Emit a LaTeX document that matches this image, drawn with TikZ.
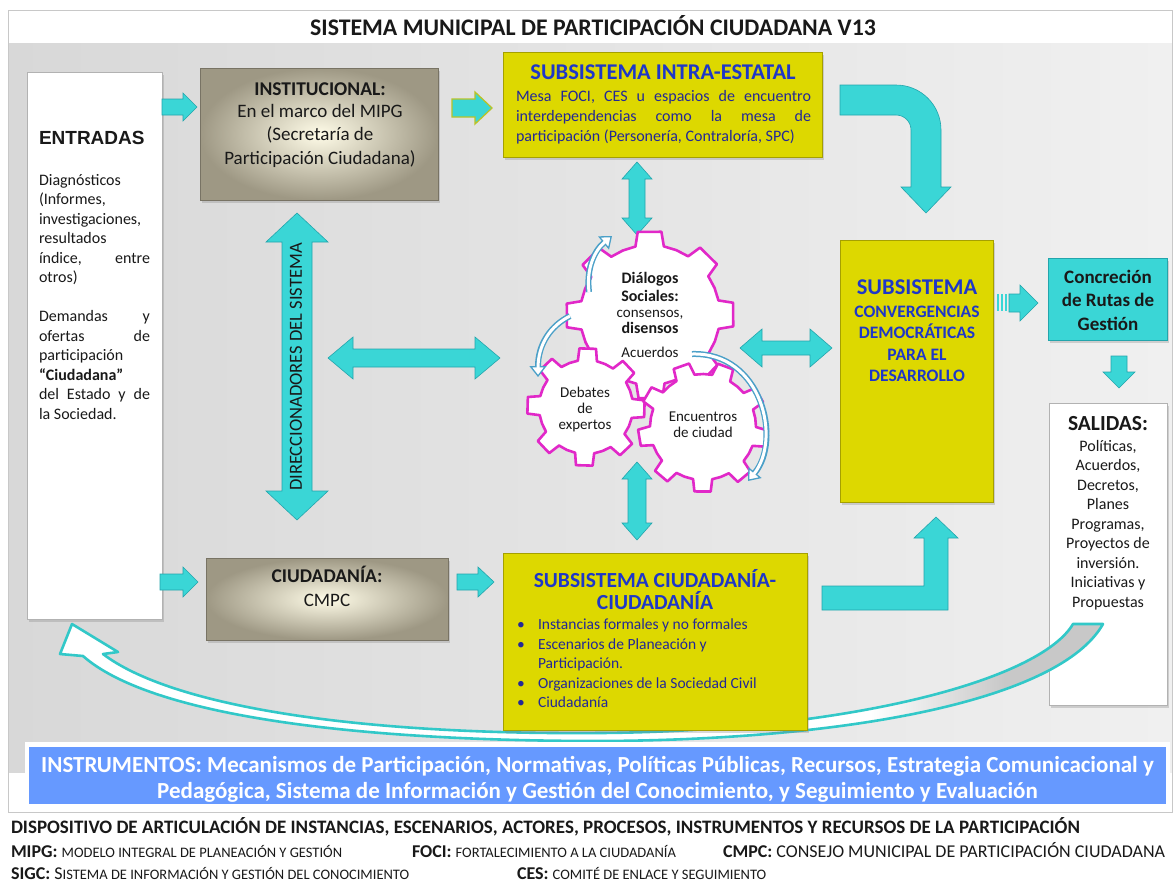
\documentclass[tikz,border=0pt]{standalone}
\usepackage{fontspec}
\setmainfont{Carlito}
\newfontfamily\arialf{Liberation Sans}
\usetikzlibrary{shadows,arrows.meta}
\definecolor{yel}{RGB}{221,216,0}
\definecolor{yelD}{RGB}{165,160,0}
\definecolor{titB}{RGB}{30,55,200}
\definecolor{bodyB}{RGB}{35,40,150}
\definecolor{cy}{RGB}{58,214,214}
\definecolor{cyD}{RGB}{35,165,172}
\definecolor{beC}{RGB}{255,252,232}
\definecolor{beO}{RGB}{158,152,132}
\definecolor{beD}{RGB}{120,115,100}
\definecolor{mag}{RGB}{225,40,200}
\definecolor{arrC}{RGB}{75,160,200}
\definecolor{instB}{RGB}{102,153,255}
\definecolor{bgL}{RGB}{216,216,216}
\definecolor{bgR}{RGB}{240,240,240}
\definecolor{frameC}{RGB}{200,200,200}
\definecolor{ribG}{RGB}{200,200,200}
\definecolor{ribC}{RGB}{50,200,200}
\definecolor{txtD}{RGB}{25,25,25}
\definecolor{olv}{RGB}{185,195,40}
\newcommand{\fs}[2]{\fontsize{#1pt}{#2pt}\selectfont}
\newcommand{\jw}[2]{\makebox[#1][s]{#2}}
\newcommand{\smc}[1]{{\fs{14.5}{17}#1}}
% right arrow: x0 x1 yc shaft-half head-half head-len
\newcommand{\rarr}[7][]{\filldraw[cyanarrow,#1] (#2,#4-#5) -- (#3-#7,#4-#5) -- (#3-#7,#4-#6) -- (#3,#4) -- (#3-#7,#4+#6) -- (#3-#7,#4+#5) -- (#2,#4+#5) -- cycle;}
% horizontal double arrow
\newcommand{\hdarr}[6]{\filldraw[cyanarrow] (#1,#3) -- (#1+#6,#3-#5) -- (#1+#6,#3-#4) -- (#2-#6,#3-#4) -- (#2-#6,#3-#5) -- (#2,#3) -- (#2-#6,#3+#5) -- (#2-#6,#3+#4) -- (#1+#6,#3+#4) -- (#1+#6,#3+#5) -- cycle;}
% vertical double arrow: xc y0 y1 sh hh hl
\newcommand{\vdarr}[6]{\filldraw[cyanarrow] (#1,#2) -- (#1+#5,#2+#6) -- (#1+#4,#2+#6) -- (#1+#4,#3-#6) -- (#1+#5,#3-#6) -- (#1,#3) -- (#1-#5,#3-#6) -- (#1-#4,#3-#6) -- (#1-#4,#2+#6) -- (#1-#5,#2+#6) -- cycle;}
% down arrow: xc y0 ytip sh hh hl
\newcommand{\dnarr}[6]{\filldraw[cyanarrow] (#1-#4,#2) -- (#1+#4,#2) -- (#1+#4,#3-#6) -- (#1+#5,#3-#6) -- (#1,#3) -- (#1-#5,#3-#6) -- (#1-#4,#3-#6) -- cycle;}
% gear: cx cy N rin rout phase
\newcommand{\drawgear}[6]{%
  \begin{scope}[shift={(#1,#2)}]
  \filldraw[gearsty] (#6:#4) \foreach \k in {1,...,#3}{
    -- ({#6+(\k-1)*360/#3+0.08*360/#3}:#5)
    -- ({#6+(\k-1)*360/#3+0.44*360/#3}:#5)
    -- ({#6+(\k-1)*360/#3+0.52*360/#3}:#4)
    -- ({#6+(\k-1)*360/#3+0.76*360/#3}:#4)
    -- ({#6+\k*360/#3}:#4)
  } -- cycle;
  \end{scope}}
\newcommand{\ringarrow}[1]{%
  \draw[line width=6pt, arrC, -{Triangle[length=11pt,width=17pt,fill=white,line width=1.3pt]}] #1;
  \draw[line width=3pt, white, shorten >=9pt] #1;}
\tikzset{
  every node/.style={inner sep=0pt, outer sep=0pt},
  txt/.style={text=txtD},
  shad/.style={drop shadow={opacity=0.3, shadow xshift=2pt, shadow yshift=-2.5pt}},
  yelbox/.style={shad, fill=yel, draw=yelD, line width=0.6pt},
  beigebox/.style={shad, inner color=beC, outer color=beO, draw=beD, line width=0.6pt},
  whitebox/.style={shad, fill=white, draw=black!30, line width=0.6pt},
  cyanbox/.style={shad, fill=cy, draw=cyD, line width=0.6pt},
  cyanarrow/.style={fill=cy, draw=cyD, line width=0.6pt, line join=miter},
  gearsty/.style={fill=white, draw=mag, line width=2.6pt, line join=round},
}
\begin{document}
\begin{tikzpicture}[x=1pt,y=-1pt]
\useasboundingbox (0,0) rectangle (1174,884);
\fill[white] (0,0) rectangle (1174,884);
% background
\shade[left color=bgL, right color=bgR] (8,43) rectangle (1172,772);
\draw[frameC, line width=0.8pt] (8,10) rectangle (1172,812);
\node[txt, anchor=base, font={\fs{23.8}{28}\bfseries}] (title) at (593,35) {SISTEMA MUNICIPAL DE PARTICIPACIÓN CIUDADANA V13};

% salidas box (below ribbon)
\node[whitebox, anchor=north west, minimum width=118pt, minimum height=302pt] (sal) at (1049,403) {};

% big return ribbon
\begin{scope}
\clip (72,624) -- (60,654) -- (83,656) .. controls (150,715) and (350,741) .. (600,741) .. controls (850,740) and (1060,700) .. (1103,624) -- (1073,624) .. controls (1040,680) and (850,731) .. (600,733) .. controls (350,735) and (170,705) .. (103,654) -- (118,652) -- cycle;
\fill[white] (50,600) rectangle (1110,760);
\shade[left color=white, right color=ribG] (870,600) rectangle (1005,760);
\fill[ribG] (1004,600) rectangle (1110,760);
\end{scope}
\draw[ribC, line width=2.6pt, line join=round] (72,624) -- (60,654) -- (83,656) .. controls (150,715) and (350,741) .. (600,741) .. controls (850,740) and (1060,700) .. (1103,624) -- (1073,624) .. controls (1040,680) and (850,731) .. (600,733) .. controls (350,735) and (170,705) .. (103,654) -- (118,652) -- cycle;

% boxes
\node[whitebox, anchor=north west, minimum width=135pt, minimum height=547pt] (ent) at (27,72) {};
\node[beigebox, anchor=north west, minimum width=238pt, minimum height=132pt] (inst) at (200,68) {};
\node[yelbox, anchor=north west, minimum width=319pt, minimum height=105pt] (intra) at (503,52) {};
\node[yelbox, anchor=north west, minimum width=153pt, minimum height=262pt] (conv) at (840,240) {};
\node[cyanbox, anchor=north west, minimum width=119pt, minimum height=82pt] (concr) at (1048,258) {};
\node[beigebox, anchor=north west, minimum width=242pt, minimum height=82pt] (ciud) at (206,558) {};
\node[yelbox, anchor=north west, minimum width=304pt, minimum height=177pt] (subc) at (503,553) {};

% instruments bar
\fill[white] (25,742) rectangle (1170,808);
\node[fill=instB, anchor=north west, minimum width=1137pt, minimum height=57pt] (instr) at (29,747) {};

% block arrows
\rarr{162}{197}{107}{8}{14}{14}
\rarr[draw=olv, line width=1.3pt]{452}{492}{108}{9}{16}{17}
\rarr{160}{198}{582}{8}{15}{15}
\rarr{457}{494}{582}{8}{15}{16}
\dnarr{1119}{356}{388}{8}{16}{16}
\vdarr{637}{162}{235}{8}{15}{17}
\vdarr{637}{462}{540}{9}{15}{17}
\hdarr{328}{500}{358}{9}{21}{25}
\hdarr{740}{832}{348}{7}{19}{22}
\vdarr{297}{213}{520}{15}{31}{29}
% striped arrow to concrecion
\fill[cy] (997,294) rectangle (999,311);
\fill[cy] (1001,294) rectangle (1003,311);
\fill[cy] (1005,294) rectangle (1007,311);
\filldraw[cyanarrow] (1009,294) -- (1020,294) -- (1020,285) -- (1038,303) -- (1020,321) -- (1020,312) -- (1009,312) -- cycle;
% top bent arrow
\filldraw[cyanarrow] (840,85) -- (896,85) .. controls (920.9,85) and (941,105.1) .. (941,130) -- (941,187) -- (951,187) -- (926,213) -- (901,187) -- (911,187) -- (911,130) .. controls (911,121.7) and (904.3,115) .. (896,115) -- (840,115) -- cycle;
% bottom bent arrow
\filldraw[cyanarrow] (822,586) -- (924,586) -- (924,538) -- (914,538) -- (936,517) -- (958,538) -- (948,538) -- (948,610) -- (822,610) -- cycle;

% gears
\drawgear{650}{315}{8}{70}{84}{-102}
\drawgear{586}{407}{8}{47}{59}{-100}
\drawgear{703}{427}{9}{53}{65}{-80}
% circulation arrows
\ringarrow{(589,292) .. controls (586,268) and (595,250) .. (612,236)}
\ringarrow{(570,316) .. controls (550,326) and (538,345) .. (538,377)}
\ringarrow{(692,354) .. controls (762,352) and (782,440) .. (748,481)}

% ENTRADAS text
\node[txt, anchor=base west, font={\arialf\fs{19}{22}\bfseries}] (entT) at (39,144) {ENTRADAS};
\begin{scope}[every node/.append style={txt, anchor=base west, font=\fs{16}{19.5}}]
\node (e1) at (39,185) {Diagnósticos};
\node (e2) at (39,204.5) {(Informes,};
\node (e3) at (39,224) {investigaciones,};
\node (e4) at (39,243.5) {resultados};
\node (e5) at (39,263) {\jw{111pt}{índice, entre}};
\node (e6) at (39,282.5) {otros)};
\node (e7) at (39,321.5) {\jw{111pt}{Demandas y}};
\node (e8) at (39,341) {\jw{111pt}{ofertas de}};
\node (e9) at (39,360.5) {participación};
\node (e10) at (39,380) {\textbf{“Ciudadana”}};
\node (e11) at (39,399.5) {\jw{111pt}{del Estado y de}};
\node (e12) at (39,419) {la Sociedad.};
\end{scope}

% INSTITUCIONAL text
\node[txt, anchor=base, font={\fs{19.5}{23}\bfseries}] (instT) at (320,95) {INSTITUCIONAL:};
\node[txt, anchor=base, font=\fs{19}{23}] (inst1) at (320,117) {En el marco del MIPG};
\node[txt, anchor=base, font=\fs{19}{23}] (inst2) at (320,140.5) {(Secretaría de};
\node[txt, anchor=base, font=\fs{19}{23}] (inst3) at (320,164) {Participación Ciudadana)};

% INTRA text
\node[text=titB, anchor=base, font={\fs{22.5}{26}\bfseries}] (intraT) at (663,79.3) {SUBSISTEMA INTRA-ESTATAL};
\node[text=bodyB, anchor=base west, font=\fs{16}{20}] (intra1) at (516,101.7) {\jw{295pt}{Mesa FOCI, CES u espacios de encuentro}};
\node[text=bodyB, anchor=base west, font=\fs{16}{20}] (intra2) at (516,121.7) {\jw{295pt}{interdependencias como la mesa de}};
\node[text=bodyB, anchor=base west, font=\fs{16}{20}] (intra3) at (516,141.7) {participación (Personería, Contraloría, SPC)};

% gear texts
\node[txt, anchor=base, font={\fs{16}{19}\bfseries}] (g1) at (650,283) {Diálogos};
\node[txt, anchor=base, font={\fs{16}{19}\bfseries}] (g2) at (650,301.7) {Sociales:};
\node[txt, anchor=base, font=\fs{15}{18}] (g3) at (650,317) {consensos,};
\node[txt, anchor=base, font={\fs{16}{19}\bfseries}] (g4) at (650,333) {disensos};
\node[txt, anchor=base, font=\fs{15}{18}] (g5) at (650,357) {Acuerdos};
\node[txt, anchor=base, font=\fs{15}{18}] (d1) at (585,397) {Debates};
\node[txt, anchor=base, font=\fs{15}{18}] (d2) at (585,413) {de};
\node[txt, anchor=base, font=\fs{15}{18}] (d3) at (585,429) {expertos};
\node[txt, anchor=base, font=\fs{15}{18}] (c1) at (703,421.7) {Encuentros};
\node[txt, anchor=base, font=\fs{15}{18}] (c2) at (703,437.3) {de ciudad};

% DIRECCIONADORES
\node[txt, rotate=90, font=\fs{18.5}{22}] (dirT) at (296,367) {DIRECCIONADORES DEL SISTEMA};

% CONVERGENCIAS
\node[text=titB, anchor=base, font={\fs{22.5}{26}\bfseries}] (cv0) at (917,294.3) {SUBSISTEMA};
\node[text=titB, anchor=base, font={\fs{17.5}{21}\bfseries}] (cv1) at (917,317.3) {CONVERGENCIAS};
\node[text=titB, anchor=base, font={\fs{17.5}{21}\bfseries}] (cv2) at (917,338.3) {DEMOCRÁTICAS};
\node[text=titB, anchor=base, font={\fs{17.5}{21}\bfseries}] (cv3) at (917,360.7) {PARA EL};
\node[text=titB, anchor=base, font={\fs{17.5}{21}\bfseries}] (cv4) at (917,381.7) {DESARROLLO};

% CONCRECION
\node[txt, anchor=base, font={\fs{19}{23}\bfseries}] (cc1) at (1108,283.3) {Concreción};
\node[txt, anchor=base, font={\fs{19}{23}\bfseries}] (cc2) at (1108,306.7) {de Rutas de};
\node[txt, anchor=base, font={\fs{19}{23}\bfseries}] (cc3) at (1108,330) {Gestión};

% SALIDAS
\node[txt, anchor=base, font={\fs{21.5}{25}\bfseries}] (salT) at (1108,430) {SALIDAS:};
\begin{scope}[every node/.append style={txt, anchor=base, font=\fs{16}{19.5}}]
\node (s1) at (1108,451) {Políticas,};
\node (s2) at (1108,470.5) {Acuerdos,};
\node (s3) at (1108,490) {Decretos,};
\node (s4) at (1108,509.5) {Planes};
\node (s5) at (1108,529) {Programas,};
\node (s6) at (1108,548.5) {Proyectos de};
\node (s7) at (1108,568) {inversión.};
\node (s8) at (1108,587.5) {Iniciativas y};
\node (s9) at (1108,607) {Propuestas};
\end{scope}

% CIUDADANIA
\node[txt, anchor=base, font={\fs{19.5}{23}\bfseries}] (ciT) at (327,582.7) {CIUDADANÍA:};
\node[txt, anchor=base, font=\fs{19}{23}] (ci1) at (327,606.5) {CMPC};

% SUBSISTEMA CIUDADANIA
\node[text=titB, anchor=base, font={\fs{21.5}{25}\bfseries}] (scT1) at (655,587) {SUBSISTEMA CIUDADANÍA-};
\node[text=titB, anchor=base, font={\fs{21.5}{25}\bfseries}] (scT2) at (655,609) {CIUDADANÍA};
\begin{scope}[every node/.append style={text=bodyB, anchor=base west, font=\fs{15.5}{19}}]
\node (b1) at (517,629.5) {•};
\node (sc1) at (538,629.5) {Instancias formales y no formales};
\node (b2) at (517,649) {•};
\node (sc2) at (538,649) {Escenarios de Planeación y};
\node (sc3) at (538,668.5) {Participación.};
\node (b3) at (517,688) {•};
\node (sc4) at (538,688) {Organizaciones de la Sociedad Civil};
\node (b4) at (517,707.5) {•};
\node (sc5) at (538,707.5) {Ciudadanía};
\end{scope}

% INSTRUMENTOS text
\node[text=white, anchor=base, font={\fs{23}{27}\bfseries}] (in1) at (597.5,772) {INSTRUMENTOS: Mecanismos de Participación, Normativas, Políticas Públicas, Recursos, Estrategia Comunicacional y};
\node[text=white, anchor=base, font={\fs{23}{27}\bfseries}] (in2) at (597.5,798) {Pedagógica, Sistema de Información y Gestión del Conocimiento, y Seguimiento y Evaluación};

% footer
\node[txt, anchor=base west, font={\fs{19}{22}\bfseries}] (f1) at (11,833.5) {DISPOSITIVO DE ARTICULACIÓN DE INSTANCIAS, ESCENARIOS, ACTORES, PROCESOS, INSTRUMENTOS Y RECURSOS DE LA PARTICIPACIÓN};
\node[txt, anchor=base west, font=\fs{18}{21}] (f2) at (11,857) {\textbf{MIPG:} \smc{MODELO INTEGRAL DE PLANEACIÓN Y GESTIÓN}};
\node[txt, anchor=base east, font=\fs{18}{21}] (f3) at (676,857) {\textbf{FOCI:} \smc{FORTALECIMIENTO A LA CIUDADANÍA}};
\node[txt, anchor=base east, font=\fs{18}{21}] (f4) at (1165,857) {\textbf{CMPC:} CONSEJO MUNICIPAL DE PARTICIPACIÓN CIUDADANA};
\node[txt, anchor=base west, font=\fs{18}{21}] (f5) at (11,879) {\textbf{SIGC:} S\smc{ISTEMA DE INFORMACIÓN Y GESTIÓN DEL CONOCIMIENTO}};
\node[txt, anchor=base west, font=\fs{18}{21}] (f6) at (517,879) {\textbf{CES:} \smc{COMITÉ DE ENLACE Y SEGUIMIENTO}};
\end{tikzpicture}
\end{document}
